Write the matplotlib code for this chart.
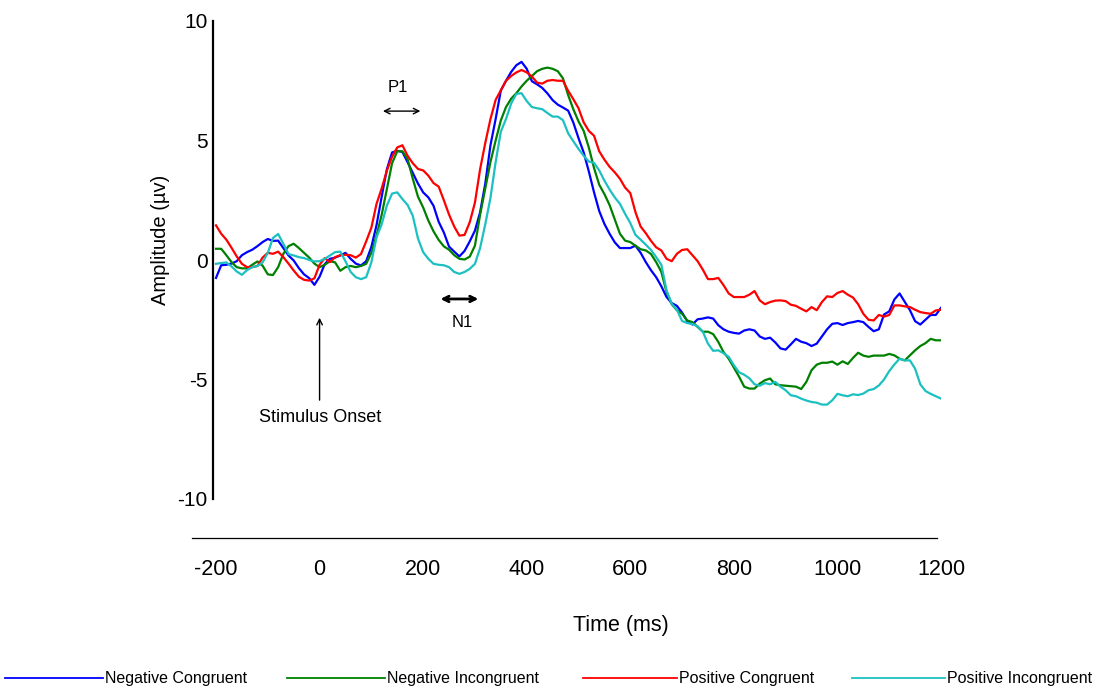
import numpy as np
import matplotlib.pyplot as plt
from matplotlib.lines import Line2D

plt.rcParams['font.family'] = ['Liberation Sans', 'DejaVu Sans']

# time axis (ms), sampled every 10 ms
times = np.arange(-200, 1201, 10)

neg_congruent = [
    -0.75, -0.22, -0.2, -0.15, -0.05, 0.2, 0.33, 0.43, 0.58, 0.75,
    0.88, 0.8, 0.81, 0.5, 0.19, -0.02, -0.34, -0.6, -0.76, -1.04,
    -0.7, -0.17, 0.05, 0.1, 0.19, 0.3, 0.05, -0.15, -0.23, -0.05,
    0.55, 1.46, 2.66, 3.8, 4.5, 4.57, 4.52, 4.09, 3.64, 3.2,
    2.83, 2.62, 2.27, 1.6, 1.15, 0.56, 0.35, 0.15, 0.38, 0.78,
    1.23, 2.0, 3.2, 4.8, 5.9, 7.09, 7.5, 7.87, 8.15, 8.29,
    8.0, 7.48, 7.35, 7.2, 6.97, 6.69, 6.5, 6.38, 6.25, 5.75,
    5.1, 4.5, 3.7, 2.83, 2.05, 1.51, 1.1, 0.74, 0.5, 0.5,
    0.5, 0.6, 0.3, -0.09, -0.43, -0.72, -1.1, -1.55, -1.8, -1.92,
    -2.2, -2.56, -2.7, -2.48, -2.45, -2.4, -2.45, -2.73, -2.9, -3.0,
    -3.05, -3.08, -2.95, -2.9, -2.95, -3.2, -3.3, -3.25, -3.45, -3.7,
    -3.75, -3.53, -3.3, -3.42, -3.48, -3.6, -3.5, -3.2, -2.9, -2.67,
    -2.64, -2.72, -2.64, -2.6, -2.55, -2.6, -2.8, -2.98, -2.9, -2.28,
    -2.15, -1.65, -1.4, -1.75, -2.1, -2.56, -2.7, -2.5, -2.3, -2.3,
    -2.0]
neg_incongruent = [
    0.47, 0.47, 0.2, -0.09, -0.3, -0.35, -0.35, -0.2, -0.06, -0.24,
    -0.6, -0.63, -0.3, 0.26, 0.58, 0.68, 0.5, 0.3, 0.1, -0.15,
    -0.3, -0.2, -0.05, -0.1, -0.45, -0.3, -0.25, -0.3, -0.25, -0.16,
    0.3, 1.02, 1.9, 2.98, 4.05, 4.55, 4.55, 4.22, 3.4, 2.65,
    2.2, 1.65, 1.2, 0.84, 0.57, 0.43, 0.2, 0.05, 0.02, 0.14,
    0.6, 1.9, 3.0, 4.1, 5.0, 5.84, 6.4, 6.75, 6.98, 7.26,
    7.5, 7.7, 7.9, 8.0, 8.05, 8.0, 7.9, 7.6, 6.9, 6.31,
    5.8, 5.4, 4.7, 3.85, 3.15, 2.76, 2.3, 1.7, 1.1, 0.81,
    0.75, 0.6, 0.45, 0.4, 0.25, -0.09, -0.5, -1.34, -1.85, -2.1,
    -2.25, -2.53, -2.6, -2.8, -3.0, -3.0, -3.1, -3.43, -3.85, -4.13,
    -4.5, -4.88, -5.3, -5.38, -5.38, -5.17, -5.03, -4.96, -5.2, -5.24,
    -5.26, -5.28, -5.3, -5.4, -5.1, -4.61, -4.38, -4.3, -4.3, -4.25,
    -4.38, -4.24, -4.35, -4.1, -3.88, -4.0, -4.05, -4.0, -4.0, -4.0,
    -3.93, -3.99, -4.13, -4.2, -3.99, -3.78, -3.6, -3.48, -3.3, -3.36,
    -3.36]
pos_congruent = [
    1.45, 1.1, 0.85, 0.51, 0.15, -0.16, -0.3, -0.3, -0.25, 0.1,
    0.3, 0.26, 0.35, 0.12, -0.15, -0.44, -0.7, -0.83, -0.86, -0.77,
    -0.2, 0.08, -0.09, 0.12, 0.2, 0.22, 0.2, 0.1, 0.25, 0.78,
    1.35, 2.35, 3.0, 3.74, 4.32, 4.71, 4.8, 4.36, 4.05, 3.81,
    3.75, 3.53, 3.22, 3.07, 2.5, 1.9, 1.4, 1.02, 1.05, 1.58,
    2.4, 3.8, 4.9, 5.9, 6.7, 7.1, 7.5, 7.7, 7.85, 7.95,
    7.85, 7.68, 7.42, 7.38, 7.5, 7.53, 7.5, 7.5, 7.08, 6.73,
    6.35, 5.76, 5.4, 5.2, 4.55, 4.2, 3.9, 3.67, 3.4, 3.03,
    2.8, 2.0, 1.4, 1.12, 0.8, 0.53, 0.4, 0.05, -0.05, 0.26,
    0.42, 0.45, 0.2, -0.05, -0.4, -0.8, -0.8, -0.75, -1.05, -1.4,
    -1.55, -1.55, -1.55, -1.45, -1.3, -1.69, -1.85, -1.76, -1.7, -1.69,
    -1.72, -1.87, -1.92, -2.04, -2.15, -1.97, -2.1, -1.76, -1.52, -1.55,
    -1.38, -1.3, -1.45, -1.57, -1.85, -2.25, -2.5, -2.53, -2.3, -2.37,
    -2.3, -1.9, -1.9, -1.94, -1.97, -2.08, -2.18, -2.22, -2.25, -2.11,
    -2.08]
pos_incongruent = [
    -0.16, -0.13, -0.1, -0.27, -0.48, -0.62, -0.42, -0.3, -0.25, -0.1,
    0.3, 0.92, 1.09, 0.68, 0.25, 0.19, 0.12, 0.08, 0.0, -0.06,
    -0.05, 0.05, 0.19, 0.33, 0.35, -0.05, -0.5, -0.72, -0.8, -0.72,
    -0.1, 0.95, 1.5, 2.28, 2.78, 2.83, 2.55, 2.3, 1.85, 0.9,
    0.33, 0.05, -0.16, -0.2, -0.22, -0.3, -0.5, -0.58, -0.5, -0.37,
    -0.16, 0.5, 1.5, 2.6, 4.1, 5.37, 5.9, 6.55, 6.95, 6.98,
    6.65, 6.4, 6.35, 6.31, 6.15, 6.0, 6.0, 5.85, 5.3, 4.97,
    4.65, 4.36, 4.12, 4.06, 3.75, 3.32, 2.95, 2.62, 2.35, 1.93,
    1.55, 1.05, 0.85, 0.64, 0.42, 0.12, -0.2, -1.27, -1.83, -2.08,
    -2.55, -2.64, -2.68, -2.77, -3.0, -3.5, -3.8, -3.78, -3.9, -4.05,
    -4.4, -4.7, -4.8, -4.95, -5.2, -5.26, -5.15, -5.2, -5.1, -5.3,
    -5.45, -5.66, -5.7, -5.8, -5.88, -5.94, -5.97, -6.05, -6.05, -5.87,
    -5.6, -5.66, -5.7, -5.62, -5.65, -5.59, -5.45, -5.4, -5.25, -5.0,
    -4.65, -4.37, -4.13, -4.2, -4.2, -4.55, -5.2, -5.48, -5.6, -5.7,
    -5.8]

series = [
    ("Negative Congruent", neg_congruent, "#0000ff"),
    ("Negative Incongruent", neg_incongruent, "#008000"),
    ("Positive Congruent", pos_congruent, "#ff0000"),
    ("Positive Incongruent", pos_incongruent, "#1cc0c0"),
]
x_ticks = [-200, 0, 200, 400, 600, 800, 1000, 1200]
y_ticks = [-10, -5, 0, 5, 10]

W, H = 1101, 688
fig = plt.figure(figsize=(W / 100, H / 100), dpi=100)
ax = fig.add_axes([213 / W, 1 - 499 / H, 728 / W, 478 / H])

for name, vals, col in series:
    ax.plot(times, vals, color=col, lw=1.6)

ax.set_xlim(-205.8, 1200)
ax.set_ylim(-10, 10)
for s in ["top", "right", "bottom"]:
    ax.spines[s].set_visible(False)
ax.spines["left"].set_linewidth(1.6)

ax.set_yticks(y_ticks)
ax.set_yticklabels([str(v) for v in y_ticks], fontsize=15)
ax.set_xticks(x_ticks)
ax.set_xticklabels([str(v) for v in x_ticks], fontsize=15.5)
ax.tick_params(axis="y", length=0, pad=4)
ax.tick_params(axis="x", length=0, pad=43)

# separate horizontal time axis line
ax.plot([-246, 1192], [-11.63, -11.63], color="black", lw=0.9, clip_on=False)

ax.text(0.5604, -0.2636, "Time (ms)", transform=ax.transAxes,
        ha="center", va="center", fontsize=15.5)
ax.text(-0.0728, 0.542, "Amplitude (\u00b5v)", transform=ax.transAxes,
        ha="center", va="center", rotation=90, fontsize=14.5)

# component annotations
ax.annotate("", xy=(117, 6.23), xytext=(200, 6.23),
            arrowprops=dict(arrowstyle="<->", color="black", lw=1.0))
ax.text(151, 7.2, "P1", ha="center", va="center", fontsize=12)
ax.annotate("", xy=(228, -1.63), xytext=(312, -1.63),
            arrowprops=dict(arrowstyle="<->", color="black", lw=2.0))
ax.text(275, -2.6, "N1", ha="center", va="center", fontsize=12)
ax.annotate("", xy=(0, -2.3), xytext=(0, -5.98),
            arrowprops=dict(arrowstyle="->", color="black", lw=1.0))
ax.text(2, -6.57, "Stimulus Onset", ha="center", va="center", fontsize=13)

# legend along the bottom
leg_pos = [(5, 103), (287, 385), (583, 677), (852, 945)]
for (x0, x1), (name, vals, col) in zip(leg_pos, series):
    fig.add_artist(Line2D([x0 / W, x1 / W], [1 - 678 / H] * 2, color=col, lw=1.3))
    fig.text((x1 + 2) / W, 1 - 678 / H, name, ha="left", va="center", fontsize=11.5)

fig.savefig("out.png", dpi=100)
